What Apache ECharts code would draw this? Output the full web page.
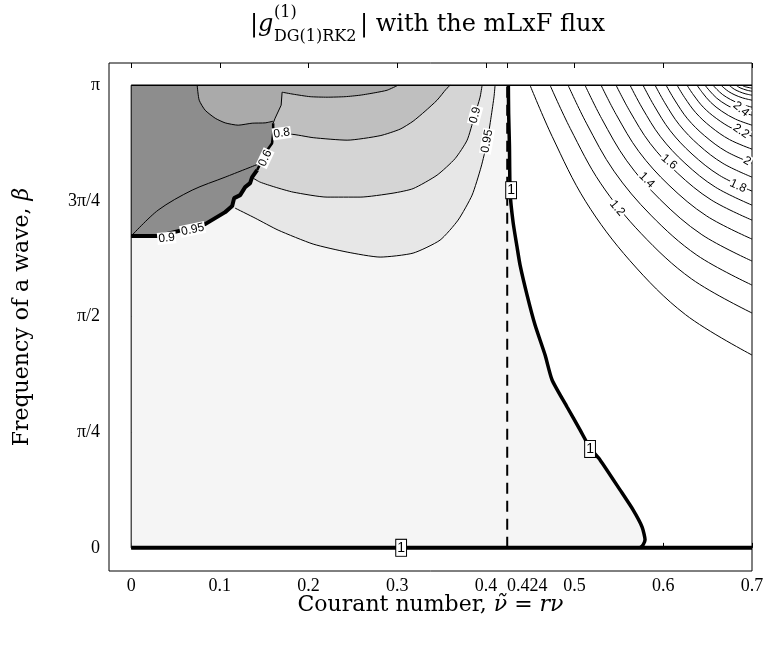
<!DOCTYPE html>
<html><head><meta charset="utf-8">
<script src="https://cdn.jsdelivr.net/npm/echarts@6/dist/echarts.min.js"></script>
<style>html,body{margin:0;padding:0;background:#fff}#c{width:771px;height:647px}</style>
</head><body><div id="c"></div>
<script>
// ---- axis ticks ----
const xTickValues = [0, 0.1, 0.2, 0.3, 0.4, 0.424, 0.5, 0.6, 0.7];
const xTickLabels = ['0', '0.1', '0.2', '0.3', '0.4', '0.424', '0.5', '0.6', '0.7'];
const yTickValues = [0, 0.25, 0.5, 0.75, 1];           // beta / pi
const yTickLabels = ['0', 'π/4', 'π/2', '3π/4', 'π'];

// ---- contour |g| = 1 (thick), from beta = pi down to beta = 0 ----
const unitContour = [[0.4253,1],[0.4256,0.9395],[0.4265,0.8704],[0.4273,0.7667],[0.4306,0.7041],[0.4351,0.6501],
  [0.4385,0.6112],[0.4464,0.5464],[0.4554,0.4816],[0.4667,0.4168],[0.4746,0.3629],[0.4915,0.3045],[0.5061,0.2549],
  [0.5174,0.2160],[0.5287,0.1901],[0.5512,0.1253],[0.5659,0.0821],[0.5760,0.0454],[0.5794,0.0173],[0.5772,0.0065],[0.5738,0]];
// ---- contours below 1 ----
const c095 = [[0.1172,0.7343],[0.1398,0.7127],[0.1657,0.6868],[0.2052,0.6566],[0.2435,0.6393],[0.2807,0.6285],[0.3179,0.6371],
  [0.3483,0.6652],[0.3686,0.7084],[0.3844,0.7624],[0.3945,0.8229],[0.4013,0.8769],[0.4058,0.9309],[0.4092,0.9762],[0.4103,1]];
const c090 = [[0.1375,0.7991],[0.1454,0.7905],[0.1623,0.7797],[0.1826,0.7689],[0.2209,0.7581],[0.2581,0.7581],[0.2953,0.7667],
  [0.3179,0.7765],[0.3449,0.8056],[0.3652,0.8413],[0.3788,0.8812],[0.3867,0.9309],[0.3934,0.9741],[0.3957,1]];
const c080 = [[0.1601,0.8942],[0.1792,0.8942],[0.2052,0.8866],[0.2435,0.8812],[0.2807,0.8909],[0.3032,0.9050],[0.3179,0.9222],
  [0.3314,0.9438],[0.3449,0.9676],[0.3551,0.9914],[0.3596,1]];
const cTop = [[0.1702,0.9849],[0.1826,0.9806],[0.2018,0.9752],[0.2209,0.9741],[0.2412,0.9752],[0.2581,0.9784],[0.2751,0.9838],
  [0.2886,0.9892],[0.3010,1]];
const cBlob = [[0.0744,1],[0.0767,0.9676],[0.0834,0.9460],[0.0947,0.9287],[0.1060,0.9186],[0.1206,0.9136],[0.1364,0.9179],
  [0.1511,0.9186],[0.1601,0.9222]];
const disc = [[0,0.6739],[0.0304,0.6739],[0.0552,0.6857],[0.0834,0.6998],[0.1060,0.7257],[0.1139,0.7387],[0.1161,0.7559],
  [0.1229,0.7624],[0.1285,0.7797],[0.1341,0.7883],[0.1364,0.8013],[0.1420,0.8164],[0.1477,0.8380],[0.1533,0.8596],
  [0.1589,0.8747],[0.1601,0.8963],[0.1601,0.9179],[0.1623,0.9287],[0.1691,0.9568],[0.1702,0.9849]];
const cThin = [[0,0.6739],[0.0304,0.7300],[0.0688,0.7732],[0.1060,0.8013],[0.1432,0.8294]];
// ---- contours above 1 (levels 1.1 ... 2.9) ----
const fan11 = [[0.4497,1],[0.4747,0.8892],[0.5123,0.7492],[0.5623,0.6209],[0.6249,0.5043],[0.7,0.4168]];
const fan12 = [[0.4723,1],[0.4951,0.9064],[0.5292,0.7883],[0.5748,0.6799],[0.6317,0.5815],[0.7,0.5076]];
const fan13 = [[0.4926,1],[0.5133,0.9179],[0.5444,0.8142],[0.5859,0.7192],[0.6378,0.6328],[0.7,0.5680]];
const fan14 = [[0.5117,1],[0.5305,0.9278],[0.5588,0.8366],[0.5964,0.7529],[0.6435,0.6769],[0.7,0.6199]];
const fan15 = [[0.5298,1],[0.5468,0.9368],[0.5723,0.8570],[0.6064,0.7838],[0.6489,0.7173],[0.7,0.6674]];
const fan16 = [[0.5467,1],[0.5620,0.9446],[0.5850,0.8746],[0.6157,0.8105],[0.6540,0.7521],[0.7,0.7084]];
const fan17 = [[0.5625,1],[0.5762,0.9508],[0.5969,0.8885],[0.6244,0.8315],[0.6587,0.7797],[0.7,0.7408]];
const fan18 = [[0.5771,1],[0.5894,0.9565],[0.6078,0.9016],[0.6324,0.8512],[0.6631,0.8054],[0.7,0.7711]];
const fan19 = [[0.5907,1],[0.6016,0.9622],[0.6180,0.9146],[0.6399,0.8708],[0.6672,0.8311],[0.7,0.8013]];
const fan20 = [[0.6031,1],[0.6128,0.9680],[0.6273,0.9275],[0.6467,0.8905],[0.6709,0.8568],[0.7,0.8315]];
const fan21 = [[0.6155,1],[0.6239,0.9737],[0.6366,0.9406],[0.6535,0.9102],[0.6746,0.8825],[0.7,0.8618]];
const fan22 = [[0.6267,1],[0.6340,0.9791],[0.6450,0.9526],[0.6597,0.9284],[0.6780,0.9063],[0.7,0.8898]];
const fan23 = [[0.6380,1],[0.6442,0.9836],[0.6535,0.9628],[0.6659,0.9438],[0.6814,0.9266],[0.7,0.9136]];
const fan24 = [[0.6470,1],[0.6523,0.9877],[0.6602,0.9721],[0.6708,0.9579],[0.6841,0.9449],[0.7,0.9352]];
const fan25 = [[0.6560,1],[0.6604,0.9910],[0.6670,0.9796],[0.6758,0.9691],[0.6868,0.9596],[0.7,0.9525]];
const fan26 = [[0.6651,1],[0.6686,0.9938],[0.6738,0.9861],[0.6808,0.9789],[0.6895,0.9725],[0.7,0.9676]];
const fan27 = [[0.6741,1],[0.6767,0.9959],[0.6806,0.9907],[0.6858,0.9860],[0.6922,0.9816],[0.7,0.9784]];
const fan28 = [[0.6820,1],[0.6865,0.9944],[0.6946,0.9890],[0.7,0.9870]];
const fan29 = [[0.6887,1],[0.6915,0.9972],[0.7,0.9935]];
const fanContours = [fan11,fan12,fan13,fan14,fan15,fan16,fan17,fan18,fan19,fan20,fan21,fan22,fan23,fan24,fan25,fan26,fan27,fan28,fan29];
// ---- straight guide lines ----
const baseLine = [[0,0],[0.7,0]];
const topLine = [[0,1],[0.7,1]];
const leftLine = [[0,0],[0,1]];
const stabilityLine = [[0.424,0],[0.424,1]];
// ---- contour labels: x, beta/pi, text, angle, boxed ----
const contourLabels = [
  [0.3044,0,'1',0,true],[0.4284,0.7732,'1',0,true],[0.5174,0.2138,'1',0,true],
  [0.0400,0.6695,'0.9',5,false],[0.0693,0.6879,'0.95',12,false],[0.1511,0.8423,'0.6',65,false],[0.1697,0.8963,'0.8',8,false],
  [0.3878,0.9352,'0.9',75,false],[0.4013,0.8790,'0.95',80,false],
  [0.5479,0.7343,'1.2',-50,false],[0.5813,0.7948,'1.4',-45,false],[0.6065,0.8343,'1.6',-40,false],
  [0.6843,0.7819,'1.8',-25,false],[0.6944,0.8359,'2',-30,false],[0.6876,0.9006,'2.2',-35,false],[0.6876,0.9482,'2.4',-40,false]
];

// ---- filled bands (painted from lightest to darkest) ----
const rev = a => a.slice().reverse();
const regions = [
  { color: '#f5f5f5', pts: [[0,1], ...unitContour, [0,0]] },
  { color: '#e7e7e7', pts: [[0,1], ...rev(c095), [0,0.6739]] },
  { color: '#d5d5d5', pts: [[0,1], ...rev(c090), [0,0.6739]] },
  { color: '#bfbfbf', pts: [[0,1], ...rev(c080), [0,0.6739]] },
  { color: '#aaaaaa', pts: [...rev(cTop), disc[18], disc[17], ...rev(cBlob)] },
  { color: '#8d8d8d', pts: [[0,1], ...cBlob, ...rev(disc.slice(0,17))] }
];

const chart = echarts.init(document.getElementById('c'), null, { renderer: 'canvas' });

function line(data, width, extra) {
  return Object.assign({
    type: 'line', data: data, showSymbol: false, symbol: 'none', silent: true, animation: false,
    lineStyle: { color: '#000', width: width }, z: 3
  }, extra || {});
}

const series = [{
  type: 'custom', silent: true, animation: false, z: 1, clip: true,
  data: regions.map(r => r.pts[0]),
  renderItem: function (params, api) {
    const r = regions[params.dataIndex];
    return { type: 'polygon', shape: { points: r.pts.map(p => api.coord(p)) }, style: { fill: r.color } };
  }
}];
fanContours.forEach(f => series.push(line(f, 1, { smooth: 0.35 })));
series.push(line(stabilityLine, 2, { lineStyle: { color: '#000', width: 2, type: [11, 7] } }));
series.push(line(c095, 1, { smooth: 0.2 }));
series.push(line(c090, 1, { smooth: 0.2 }));
series.push(line(c080, 1, { smooth: 0.2 }));
series.push(line(cTop, 1, { smooth: 0.2 }));
series.push(line(cBlob, 1, { smooth: 0.2 }));
series.push(line(cThin, 1, { smooth: 0.3 }));
series.push(line(disc.slice(16), 1));
series.push(line(disc.slice(11, 17), 2.5));
series.push(line(disc.slice(0, 12), 4));
series.push(line(topLine, 1.5));
series.push(line(leftLine, 1));
series.push(line(unitContour, 3.5, { smooth: 0.2, z: 4 }));
series.push(line(baseLine, 4, { z: 4 }));
series.push({
  type: 'scatter', silent: true, animation: false, z: 10, symbol: 'circle', symbolSize: 0,
  itemStyle: { color: '#000', opacity: 1 },
  data: contourLabels.map(l => ({
    value: [l[0], l[1]],
    label: Object.assign({
      show: true, position: 'inside', formatter: l[2], rotate: l[3], color: '#000', opacity: 1,
      fontFamily: 'Liberation Sans', backgroundColor: '#fff'
    }, l[4] ? { fontSize: 14, borderColor: '#000', borderWidth: 1, padding: [2, 1, 0, 1] } : { fontSize: 12, padding: [0, 1] })
  }))
});

const serif = 'Liberation Serif';
const titleFont = 'DejaVu Serif';
chart.setOption({
  animation: false,
  grid: { left: 109, right: 19, top: 63, bottom: 76, show: true, borderColor: '#000', borderWidth: 1, backgroundColor: 'transparent' },
  xAxis: [{
    type: 'value', min: -0.025, max: 0.7, position: 'bottom',
    axisLine: { show: false }, splitLine: { show: false },
    axisTick: { show: true, inside: true, length: 5, customValues: xTickValues, lineStyle: { color: '#000' } },
    axisLabel: { customValues: xTickValues, margin: 6, color: '#000', fontFamily: serif, fontSize: 18,
      rich: { r: { fontFamily: serif, fontSize: 18, color: '#000', padding: [0, 0, 0, 40] } },
      formatter: v => {
        const i = xTickValues.findIndex(t => Math.abs(t - v) < 1e-6);
        if (i < 0) return '';
        return xTickLabels[i] === '0.424' ? '{r|0.424}' : xTickLabels[i];
      } },
    name: 'Courant number, {i|ν̃} = {i|rν}', nameLocation: 'middle', nameGap: 23, nameMoveOverlap: false,
    nameTextStyle: { fontFamily: titleFont, fontSize: 22, color: '#000', rich: { i: { fontFamily: titleFont, fontSize: 22, fontStyle: 'italic' } } }
  }, {
    type: 'value', min: -0.025, max: 0.7, position: 'top',
    axisLine: { show: false }, splitLine: { show: false }, axisLabel: { show: false },
    axisTick: { show: true, inside: true, length: 5, customValues: xTickValues, lineStyle: { color: '#000' } }
  }],
  yAxis: [{
    type: 'value', min: -0.05, max: 1.048,
    axisLine: { show: false }, splitLine: { show: false },
    axisTick: { show: true, inside: true, length: 5, customValues: yTickValues, lineStyle: { color: '#000' } },
    axisLabel: { customValues: yTickValues, margin: 9, color: '#000', fontFamily: serif, fontSize: 18,
      formatter: v => { const i = yTickValues.findIndex(t => Math.abs(t - v) < 1e-6); return i >= 0 ? yTickLabels[i] : ''; } },
    name: 'Frequency of a wave, {i|β}', nameLocation: 'middle', nameGap: 76,
    nameTextStyle: { fontFamily: titleFont, fontSize: 22, color: '#000', rich: { i: { fontFamily: titleFont, fontSize: 22, fontStyle: 'italic' } } }
  }],
  graphic: [
    { type: 'text', left: 250, top: 13, style: { text: '|{i|g}', fontFamily: titleFont, fontSize: 24, fill: '#000', rich: { i: { fontFamily: titleFont, fontSize: 24, fontStyle: 'italic' } } } },
    { type: 'text', left: 274, top: 5, style: { text: '(1)', fontFamily: titleFont, fontSize: 16, fill: '#000' } },
    { type: 'text', left: 274, top: 29, style: { text: 'DG(1)RK2', fontFamily: titleFont, fontSize: 16, fill: '#000' } },
    { type: 'text', left: 360, top: 13, style: { text: '| with the mLxF flux', fontFamily: titleFont, fontSize: 24, fill: '#000' } }
  ],
  series: series
});
</script></body></html>
